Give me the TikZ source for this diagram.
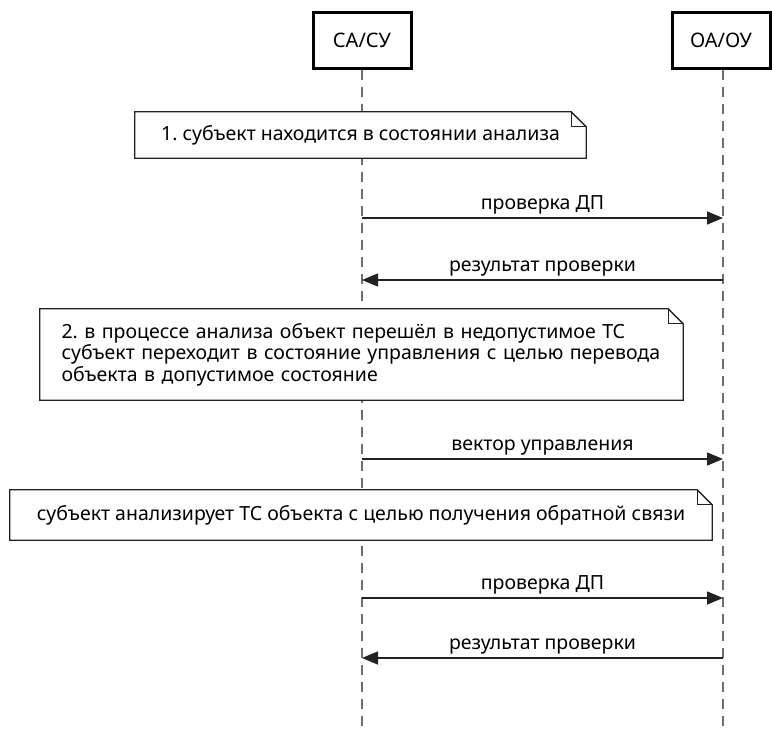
\documentclass[tikz,border=0pt]{standalone}
\usepackage{fontspec}
\setmainfont{Noto Sans}
\usetikzlibrary{arrows.meta,calc}
\definecolor{ink}{HTML}{222222}
\definecolor{lifegray}{HTML}{6E6E6E}
\tikzset{
  actorbox/.style={draw=black, line width=3pt, fill=white, minimum width=98pt,
    minimum height=56pt, inner sep=0pt, font=\fontsize{20}{24}\selectfont},
  lifeline/.style={draw=lifegray, line width=2pt, dash pattern=on 10pt off 7pt},
  notebox/.style={fill=white, inner sep=0pt, font=\fontsize{19.5}{21.5}\selectfont},
  noteline/.style={draw=ink, line width=1.3pt, line join=miter},
  msg/.style={draw=ink, line width=1.5pt, -{Triangle[length=16pt,width=13pt]}},
  msglabel/.style={font=\fontsize{19.5}{22}\selectfont, inner sep=0pt},
}
% folded-corner note outline around a named node
\newcommand{\dognote}[1]{%
  \draw[noteline] (#1.north west) -- ($(#1.north east)+(-15,0)$)
    -- ($(#1.north east)+(0,15)$) -- (#1.south east) -- (#1.south west) -- cycle;
  \draw[noteline] ($(#1.north east)+(-15,0)$) -- ($(#1.north east)+(-15,15)$)
    -- ($(#1.north east)+(0,15)$);
}
\begin{document}
\frenchspacing
\begin{tikzpicture}[x=1pt,y=-1pt]
\useasboundingbox (0,0) rectangle (772,729);

% participants
\node[actorbox] (sa) at (362,40) {СА/СУ};
\node[actorbox] (oa) at (721,40) {ОА/ОУ};
\coordinate (saend) at (362,729);
\coordinate (oaend) at (723,729);
\draw[lifeline] (sa.south) -- (saend);
\draw[lifeline] ($(oa.south)+(2,0)$) -- (oaend);

% lifeline anchors for each message row
\coordinate (s1) at (362,218); \coordinate (o1) at (723,218);
\coordinate (s2) at (362,280); \coordinate (o2) at (723,280);
\coordinate (s3) at (362,459); \coordinate (o3) at (723,459);
\coordinate (s4) at (362,598); \coordinate (o4) at (723,598);
\coordinate (s5) at (362,658); \coordinate (o5) at (723,658);

% note 1
\node[notebox, minimum width=451pt, minimum height=46pt] (n1) at (360.5,135)
  {1. субъект находится в состоянии анализа};
\dognote{n1}

% messages
\draw[msg] (s1) -- (o1) node[msglabel, midway, above=3pt] {проверка ДП};
\draw[msg] (o2) -- (s2) node[msglabel, midway, above=3pt] {результат проверки};

% note 2
\node[notebox, minimum width=643pt, minimum height=91pt, text width=600pt, align=left]
  (n2) at (361.5,354.5)
  {2. в процессе анализа объект перешёл в недопустимое ТС\\
   субъект переходит в состояние управления с целью перевода\\
   объекта в допустимое состояние};
\dognote{n2}

\draw[msg] (s3) -- (o3) node[msglabel, midway, above=3pt] {вектор управления};

% note 3
\node[notebox, minimum width=702pt, minimum height=50pt] (n3) at (361,515)
  {субъект анализирует ТС объекта с целью получения обратной связи};
\dognote{n3}

\draw[msg] (s4) -- (o4) node[msglabel, midway, above=3pt] {проверка ДП};
\draw[msg] (o5) -- (s5) node[msglabel, midway, above=3pt] {результат проверки};
\end{tikzpicture}
\end{document}
